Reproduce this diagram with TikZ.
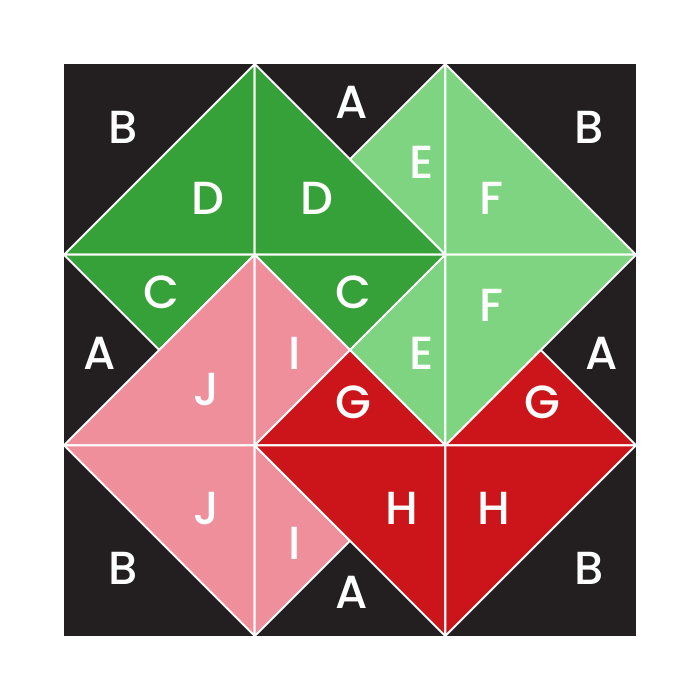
\documentclass[tikz,border=0pt]{standalone}
\usepackage{fontspec}
\setmainfont{Poppins Medium}
\usepackage{tikz}
\usetikzlibrary{positioning}

\definecolor{quiltblack}{HTML}{231F20}
\definecolor{darkgreen}{HTML}{36A138}
\definecolor{lightgreen}{HTML}{7ED480}
\definecolor{pinkpatch}{HTML}{F08F9C}
\definecolor{redpatch}{HTML}{CC151B}

\tikzset{
  patch/.style={draw=white, line width=0.55pt, line join=round},
  lbl/.style={text=white, font=\fontsize{13.2}{15}\selectfont, inner sep=0pt}
}

\begin{document}
\begin{tikzpicture}[x=1.9067cm, y=1.9067cm]

\useasboundingbox (-0.3357,-0.3357) rectangle (3.3357,3.3357);
% background
\fill[quiltblack] (0,0) rectangle (3,3);

\begin{scope}
\clip (0,0) rectangle (3,3);
% dark green
\fill[darkgreen, patch] (0,2) -- (1,3) -- (1,2) -- cycle;
\fill[darkgreen, patch] (1,3) -- (1,2) -- (2,2) -- cycle;
\fill[darkgreen, patch] (0,2) -- (1,2) -- (0.5,1.5) -- cycle;
\fill[darkgreen, patch] (1,2) -- (2,2) -- (1.5,1.5) -- cycle;
% light green
\fill[lightgreen, patch] (1.5,2.5) -- (2,3) -- (2,2) -- cycle;
\fill[lightgreen, patch] (2,3) -- (2,2) -- (3,2) -- cycle;
\fill[lightgreen, patch] (1.5,1.5) -- (2,2) -- (2,1) -- cycle;
\fill[lightgreen, patch] (2,2) -- (3,2) -- (2,1) -- cycle;
% pink
\fill[pinkpatch, patch] (0,1) -- (1,2) -- (1,1) -- cycle;
\fill[pinkpatch, patch] (1,2) -- (1.5,1.5) -- (1,1) -- cycle;
\fill[pinkpatch, patch] (0,1) -- (1,1) -- (1,0) -- cycle;
\fill[pinkpatch, patch] (1,1) -- (1,0) -- (1.5,0.5) -- cycle;
% red
\fill[redpatch, patch] (1,1) -- (1.5,1.5) -- (2,1) -- cycle;
\fill[redpatch, patch] (2,1) -- (3,1) -- (2.5,1.5) -- cycle;
\fill[redpatch, patch] (1,1) -- (2,1) -- (2,0) -- cycle;
\fill[redpatch, patch] (2,1) -- (3,1) -- (2,0) -- cycle;
\end{scope}

% labels
\node[lbl] (b1) at (0.312,2.67) {B};
\node[lbl] (a1) at (1.508,2.80) {A};
\node[lbl] (b2) at (2.756,2.67) {B};
\node[lbl] (d1) at (0.753,2.297) {D};
\node[lbl] (d2) at (1.324,2.297) {D};
\node[lbl] (e1) at (1.875,2.486) {E};
\node[lbl] (f1) at (2.242,2.297) {F};
\node[lbl] (c1) at (0.511,1.804) {C};
\node[lbl] (c2) at (1.518,1.804) {C};
\node[lbl] (f2) at (2.242,1.736) {F};
\node[lbl] (a2) at (0.186,1.484) {A};
\node[lbl] (i1) at (1.208,1.484) {I};
\node[lbl] (e2) at (1.875,1.484) {E};
\node[lbl] (a3) at (2.819,1.484) {A};
\node[lbl] (j1) at (0.747,1.29) {J};
\node[lbl] (g1) at (1.518,1.227) {G};
\node[lbl] (g2) at (2.508,1.227) {G};
\node[lbl] (j2) at (0.747,0.671) {J};
\node[lbl] (h1) at (1.770,0.671) {H};
\node[lbl] (h2) at (2.253,0.671) {H};
\node[lbl] (i2) at (1.208,0.488) {I};
\node[lbl] (b3) at (0.312,0.357) {B};
\node[lbl] (a4) at (1.508,0.231) {A};
\node[lbl] (b4) at (2.756,0.357) {B};

\end{tikzpicture}
\end{document}
